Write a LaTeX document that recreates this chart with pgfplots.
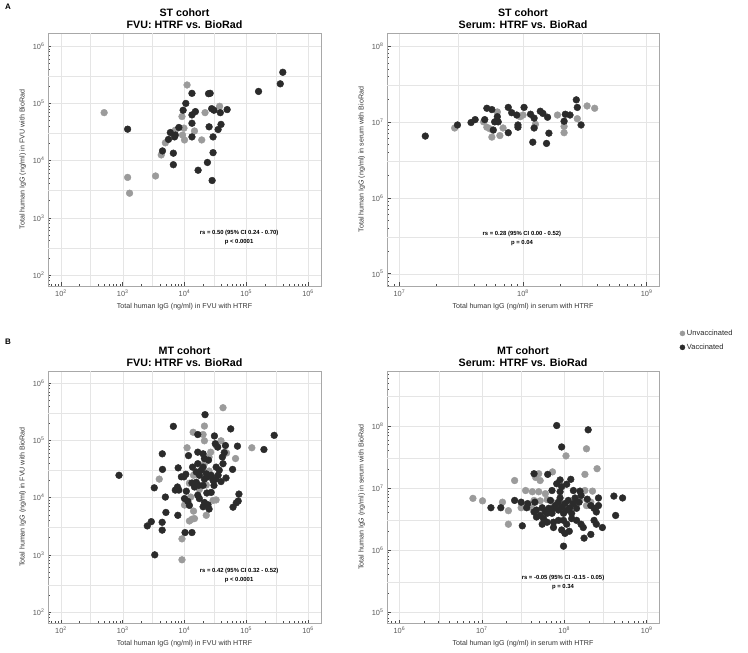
\documentclass[border=0pt]{standalone}
\usepackage{fontspec}
\setmainfont{Liberation Sans}
\usepackage{pgfplots}
\pgfplotsset{compat=1.18}
\definecolor{unvac}{HTML}{9B9B9B}
\definecolor{vac}{HTML}{2B2B2B}
\definecolor{framec}{HTML}{A8A8A8}
\pgfplotsset{
  log number format basis/.code 2 args={#1\textsuperscript{\pgfmathprintnumber{#2}}},
  /pgf/number format/assume math mode=true,
}
\pgfplotsset{
  panel/.style={
    scale only axis, anchor=south west,
    axis line style={framec, line width=0.9pt},
    tick style={black!70, line width=0.5pt},
    tick align=inside, xtick pos=left, ytick pos=left,
    major tick length=3.5pt, minor tick length=2pt,
    grid=major, major grid style={black!10, line width=0.4pt},
    tick label style={font=\fontsize{7.4}{8}\selectfont, text=black!65},
    label style={font=\fontsize{7.1}{8}\selectfont, text=black!80},
    title style={font=\bfseries\fontsize{10.7}{12}\selectfont, align=center, yshift=-5pt},
    extra tick style={major tick length=0pt},
  },
  unv/.style={only marks, mark=*, mark size=3.4pt, color=unvac, mark options={fill=unvac, draw=unvac}},
  vacc/.style={only marks, mark=*, mark size=3.4pt, color=vac, mark options={fill=vac, draw=vac}},
}
\tikzset{ann/.style={font=\bfseries\fontsize{5.9}{9}\selectfont, align=center}}
\begin{document}
\begin{tikzpicture}
\path[use as bounding box] (0,0) rectangle (748pt,653pt);
\node[font=\bfseries\fontsize{8}{9}\selectfont] at (8pt,646pt) {A};
\node[font=\bfseries\fontsize{8}{9}\selectfont] at (8pt,311pt) {B};

% ---------------- A left
\begin{axis}[xmode=log, ymode=log, panel, at={(48pt,367pt)}, width=273pt, height=253pt,
  xmin=61.7, xmax=1.62e6, ymin=64.6, ymax=1.7e6,
  extra x ticks={3e2,3e3,3e4,3e5}, extra y ticks={3e2,3e3,3e4,3e5},
  extra x tick labels={}, extra y tick labels={},
  title={ST cohort\\FVU: HTRF vs. BioRad},
  xlabel={Total human IgG (ng/ml) in FVU with HTRF},
  ylabel={Total human IgG (ng/ml) in FVU with BioRad}]
\addplot[unv] coordinates {(500,6.9e4) (1.1e4,2.1e5) (1.2e3,5.1e3) (1.29e3,2.7e3) (3.4e3,5.4e3) (4.2e3,1.26e4) (4.9e3,2.05e4) (7.1e3,3.4e4) (9.1e3,5.9e4) (9.8e3,3.7e4) (1.0e4,2.3e4) (9.3e3,2.8e4) (1.45e4,3.3e4) (1.9e4,2.3e4) (2.15e4,6.9e4) (3.7e4,8.9e4) (6.5e3,3.1e4)};
\addplot[vacc] coordinates {(1.2e3,3.55e4) (4.4e3,1.48e4) (5.5e3,2.35e4) (5.9e3,3.1e4) (6.9e3,2.6e4) (7.1e3,2.8e4) (8.1e3,3.8e4) (6.6e3,1.35e4) (6.6e3,8.5e3) (1.05e4,1.0e5) (9.5e3,7.6e4) (1.32e4,1.5e5) (1.32e4,6.3e4) (1.32e4,4.5e4) (1.32e4,2.6e4) (1.5e4,7.2e4) (1.66e4,6.8e3) (2.35e4,9.3e3) (2.45e4,1.48e5) (2.6e4,1.5e5) (2.5e4,3.9e4) (2.75e4,8.1e4) (2.9e4,2.6e4) (2.9e4,1.38e4) (2.8e4,4.5e3) (3.0e4,7.6e4) (3.5e4,3.5e4) (3.8e4,6.9e4) (3.9e4,4.3e4) (4.9e4,7.8e4) (1.58e5,1.62e5) (3.55e5,2.2e5) (3.9e5,3.5e5)};
\node[ann] at (rel axis cs:0.70,0.19) {rs = 0.50 (95\% CI 0.24 - 0.70)\\p < 0.0001};
\end{axis}

% ---------------- A right
\begin{axis}[xmode=log, ymode=log, panel, at={(387pt,367pt)}, width=272pt, height=253pt,
  xmin=7.94e6, xmax=1.26e9, ymin=6.9e4, ymax=1.48e8,
  extra x ticks={3e7,3e8}, extra y ticks={3e5,3e6,3e7},
  extra x tick labels={}, extra y tick labels={},
  title={ST cohort\\Serum: HTRF vs. BioRad},
  xlabel={Total human IgG (ng/ml) in serum with HTRF},
  ylabel={Total human IgG (ng/ml) in serum with BioRad},
  legend style={at={(1.065,-0.215)}, anchor=west, draw=none, fill=none,
    font=\fontsize{7.5}{9}\selectfont, row sep=3pt, text=black!85},
  legend cell align=left,
  legend image post style={scale=0.75}]
\addplot[unv] coordinates {(2.8e7,8.3e6) (4.8e7,1.0e7) (5.1e7,8.5e6) (5.4e7,8.1e6) (5.6e7,6.3e6) (6.2e7,1.35e7) (6.5e7,6.6e6) (6.9e7,8.3e6) (9.5e7,1.17e7) (1.0e8,1.23e7) (1.26e8,9.3e6) (1.9e8,1.23e7) (2.15e8,8.7e6) (2.15e8,7.2e6) (2.75e8,1.1e7) (3.3e8,1.62e7) (3.8e8,1.51e7)};
\addlegendentry{Unvaccinated}
\addplot[vacc] coordinates {(1.62e7,6.5e6) (2.95e7,9.1e6) (3.8e7,9.8e6) (4.1e7,1.07e7) (4.9e7,1.07e7) (5.1e7,1.51e7) (5.6e7,1.45e7) (5.75e7,7.8e6) (5.9e7,1.0e7) (6.2e7,1.17e7) (6.3e7,1.0e7) (7.6e7,1.55e7) (7.6e7,7.2e6) (8.1e7,1.32e7) (8.9e7,1.23e7) (9.1e7,9.1e6) (9.1e7,8.5e6) (1.02e8,1.55e7) (1.15e8,1.26e7) (1.2e8,5.4e6) (1.23e8,8.3e6) (1.23e8,1.12e7) (1.38e8,1.38e7) (1.45e8,1.29e7) (1.55e8,5.2e6) (1.58e8,1.15e7) (1.62e8,7.1e6) (2.15e8,1.02e7) (2.2e8,1.26e7) (2.4e8,1.23e7) (2.7e8,1.95e7) (2.75e8,1.55e7) (2.95e8,9.1e6)};
\addlegendentry{Vaccinated}
\node[ann] at (rel axis cs:0.496,0.188) {rs = 0.28 (95\% CI 0.00 - 0.52)\\p = 0.04};
\end{axis}

% ---------------- B left
\begin{axis}[xmode=log, ymode=log, panel, at={(48pt,30pt)}, width=273pt, height=252pt,
  xmin=61.7, xmax=1.62e6, ymin=64.6, ymax=1.62e6,
  extra x ticks={3e2,3e3,3e4,3e5}, extra y ticks={3e2,3e3,3e4,3e5},
  extra x tick labels={}, extra y tick labels={},
  title={MT cohort\\FVU: HTRF vs. BioRad},
  xlabel={Total human IgG (ng/ml) in FVU with HTRF},
  ylabel={Total human IgG (ng/ml) in FVU with BioRad}]
\addplot[unv] coordinates {(4.2e4,3.7e5) (2.1e4,1.77e5) (1.38e4,1.38e5) (2.0e4,1.26e5) (2.1e4,9.8e4) (3.9e4,9.8e4) (3.25e4,8.1e4) (1.1e4,7.4e4) (4.8e4,6.0e4) (2.65e4,6.2e4) (2.5e4,5.1e4) (6.7e4,4.8e4) (1.23e5,7.4e4) (2.1e4,3.9e4) (2.5e4,2.9e4) (1.4e4,2.45e4) (3.9e3,2.1e4) (1.2e4,1.78e4) (2.25e4,1.66e4) (1.74e4,1.38e4) (3.0e4,2.0e4) (1.26e4,1.02e4) (2.9e4,8.9e3) (3.25e4,9.1e3) (1.0e4,7.4e3) (1.4e4,5.8e3) (2.25e4,4.9e3) (1.2e4,3.9e3) (1.33e4,4.2e3) (1.45e4,4.3e3) (9.1e3,1.9e3) (9.1e3,820)};
\addplot[vacc] coordinates {(2.15e4,2.8e5) (6.6e3,1.75e5) (3.05e4,1.19e5) (5.6e4,1.58e5) (2.83e5,1.22e5) (7.2e4,7.9e4) (1.93e5,6.9e4) (4.37e3,5.8e4) (1.16e4,5.4e4) (1.64e4,6.2e4) (2.0e4,5.8e4) (2.1e4,4.8e4) (2.45e4,4.5e4) (3.15e4,8.7e4) (3.45e4,7.6e4) (4.6e4,8.1e4) (4.1e4,5.1e4) (4.2e4,3.9e4) (6.0e4,3.1e4) (4.4e3,3.1e4) (7.9e3,3.3e4) (9.8e3,2.3e4) (1.05e4,2.55e4) (1.55e4,2.8e4) (1.74e4,2.45e4) (1.86e4,3.0e4) (2.0e4,3.4e4) (2.25e4,2.6e4) (2.4e4,2.3e4) (2.7e4,2.45e4) (2.9e4,2.0e4) (3.2e4,2.1e4) (3.5e4,2.45e4) (3.65e4,3.0e4) (3.9e4,1.9e4) (4.7e4,2.2e4) (3.24e3,1.48e4) (7.1e3,1.35e4) (8.1e3,1.35e4) (7.7e3,1.53e4) (1.07e4,1.29e4) (1.32e4,1.8e4) (1.45e4,1.53e4) (1.7e4,1.63e4) (2.0e4,1.63e4) (2.3e4,1.2e4) (2.7e4,1.23e4) (4.9e3,1.02e4) (1.0e4,9.6e3) (1.13e4,8.6e3) (1.2e4,7.3e3) (1.64e4,1.1e4) (1.74e4,9.6e3) (2.0e4,6.9e3) (2.1e4,8.2e3) (2.4e4,7.5e3) (2.5e4,6.3e3) (5.0e3,5.5e3) (7.8e3,4.9e3) (2.9e3,3.8e3) (4.35e3,3.7e3) (4.35e3,2.7e3) (1.02e4,2.45e3) (1.32e4,2.45e3) (3.3e3,1.0e3) (7.6e4,1.15e4) (7.4e4,8.7e3) (6.9e4,8.1e3) (6.1e4,6.8e3) (870,2.45e4) (2.5e3,3.2e3) (1.64e4,3.9e4) (1.35e4,3.4e4) (3.0e4,1.63e4) (2.1e4,2.1e4) (3.25e4,3.4e4) (1.55e4,1.85e4) (8.9e3,2.3e4) (4.4e4,6.1e4) (1.64e4,1.26e5)};
\node[ann] at (rel axis cs:0.70,0.188) {rs = 0.42 (95\% CI 0.32 - 0.52)\\p < 0.0001};
\end{axis}

% ---------------- B right
\begin{axis}[xmode=log, ymode=log, panel, at={(387pt,30pt)}, width=272pt, height=252pt,
  xmin=7.08e5, xmax=1.41e9, ymin=6.6e4, ymax=7.76e8,
  extra x ticks={3e6,3e7,3e8}, extra y ticks={3e5,3e6,3e7,3e8},
  extra x tick labels={}, extra y tick labels={},
  title={MT cohort\\Serum: HTRF vs. BioRad},
  xlabel={Total human IgG (ng/ml) in serum with HTRF},
  ylabel={Total human IgG (ng/ml) in serum with BioRad}]
\addplot[unv] coordinates {(4.9e7,1.7e7) (4.5e7,1.48e7) (5.1e7,1.32e7) (7.2e7,1.82e7) (1.05e8,3.3e7) (1.86e8,4.3e7) (1.78e8,1.66e7) (2.5e8,2.05e7) (2.5e7,1.32e7) (3.4e7,9.1e6) (4.1e7,8.7e6) (4.9e7,8.7e6) (5.9e7,8.1e6) (1.78e8,9.1e6) (2.2e8,8.9e6) (1.78e7,5.9e6) (2.1e7,4.3e6) (2.1e7,2.6e6) (4.3e7,6.3e6) (5.1e7,6.2e6) (6.2e7,6.5e6) (4.0e7,4.8e6) (3.0e7,4.8e6) (1.55e8,6.3e6) (1.86e8,5.2e6) (2.1e8,5.9e6) (5.6e7,4.4e6) (7.4e7,5.75e6) (7.8e6,6.8e6) (1.02e7,6.2e6)};
\addplot[vacc] coordinates {(8.1e7,1.02e8) (1.95e8,8.7e7) (9.3e7,4.6e7) (4.3e7,1.7e7) (6.3e7,1.66e7) (8.9e7,1.35e7) (8.1e7,1.17e7) (1.2e8,1.38e7) (1.07e8,1.15e7) (9.3e7,1.05e7) (8.9e7,8.7e6) (7.1e7,9.1e6) (1.29e8,9.1e6) (1.55e8,8.9e6) (2.5e7,6.3e6) (1.7e7,4.8e6) (3.0e7,5.9e6) (3.6e7,5.6e6) (3.5e7,4.8e6) (4.4e7,5.9e6) (4.6e7,4.4e6) (5.4e7,4.8e6) (5.9e7,4.1e6) (6.5e7,4.7e6) (6.8e7,6.3e6) (7.1e7,3.9e6) (7.4e7,4.7e6) (7.8e7,5.2e6) (8.5e7,5.9e6) (8.5e7,4.4e6) (8.9e7,6.9e6) (9.3e7,4.9e6) (9.8e7,3.9e6) (1.02e8,5.6e6) (1.07e8,4.4e6) (1.12e8,6.3e6) (1.17e8,4.8e6) (1.23e8,3.9e6) (1.29e8,5.6e6) (1.35e8,6.9e6) (1.41e8,4.7e6) (1.51e8,5.9e6) (1.6e8,7.6e6) (1.9e8,6.6e6) (2.1e8,5.2e6) (2.3e8,4.7e6) (2.6e8,6.9e6) (2.6e8,5.2e6) (2.45e8,4.1e6) (4.0e8,7.4e6) (5.1e8,6.9e6) (4.2e8,3.6e6) (4.6e7,3.4e6) (5.6e7,3.2e6) (6.2e7,2.8e6) (7.4e7,2.8e6) (8.5e7,3.0e6) (9.8e7,3.0e6) (1.07e8,2.6e6) (1.23e8,3.2e6) (1.41e8,3.0e6) (1.6e8,2.6e6) (1.7e8,2.3e6) (2.3e8,3.0e6) (2.45e8,2.6e6) (2.9e8,2.3e6) (3.1e7,2.45e6) (5.4e7,2.6e6) (7.4e7,2.3e6) (9.3e7,2.1e6) (1.02e8,1.85e6) (1.15e8,2.0e6) (1.74e8,1.55e6) (2.1e8,1.78e6) (9.8e7,1.15e6) (6.2e7,3.9e6) (5.1e7,3.6e6) (4.3e7,4.1e6) (1.29e7,4.8e6)};
\node[ann] at (rel axis cs:0.647,0.16) {rs = -0.05 (95\% CI -0.15 - 0.05)\\p = 0.34};
\end{axis}
\end{tikzpicture}
\end{document}
